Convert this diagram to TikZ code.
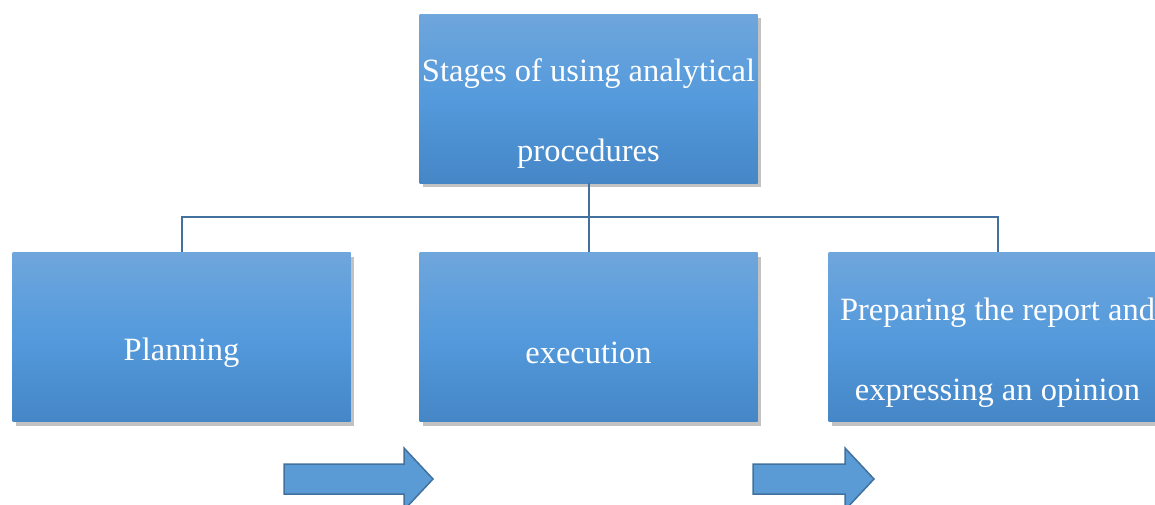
\documentclass[tikz,border=0pt]{standalone}
\usepackage{fontspec}
\setmainfont{Liberation Serif}
\usetikzlibrary{shadows,shapes.arrows}
\definecolor{gtop}{HTML}{6FA6DC}
\definecolor{gmid}{HTML}{549ADC}
\definecolor{gbot}{HTML}{4586C6}
\definecolor{linec}{HTML}{41719C}
\definecolor{arrfill}{HTML}{5B9BD5}
\tikzset{
  stagebox/.style={rectangle, minimum width=338pt, minimum height=169pt, inner sep=0pt,
    top color=gtop, bottom color=gbot, middle color=gmid,
    drop shadow={shadow xshift=3pt, shadow yshift=-4pt, opacity=0.4, fill=black!60}},
  stagetext/.style={text=white, font=\fontsize{32.5}{80}\selectfont, align=center, inner sep=0pt},
  link/.style={draw=linec, line width=2pt},
  flowarrow/.style={fill=arrfill, draw=linec, line width=1.5pt, line join=miter}
}
\begin{document}
\begin{tikzpicture}[x=1pt,y=-1pt]
\useasboundingbox (0,0) rectangle (1155,504);
\clip (0,0) rectangle (1155,504);
\node[stagebox] (top) at (588.5,98.5) {};
\node[stagebox] (plan) at (181.5,337) {};
\node[stagebox] (exec) at (588.5,337) {};
\node[stagebox] (rep) at (997.5,337) {};
\node[stagetext] (topt) at ([yshift=-15.5pt]top.center) {Stages of using analytical\\procedures};
\node[stagetext] (plant) at ([yshift=-15.5pt]plan.center) {Planning};
\node[stagetext] (exect) at ([yshift=-15.5pt]exec.center) {execution};
\node[stagetext] (rept) at ([yshift=-15.5pt]rep.center) {Preparing the report and\\expressing an opinion};
\coordinate (j) at (588.5,217);
\draw[link] (top.south) -- (j);
\draw[link] (plan.north) |- (j) -| (rep.north);
\draw[link] (j) -- (exec.north);
% block arrows
\draw[flowarrow] (284,464) -- (404,464) -- (404,448) -- (433,479) -- (404,510) -- (404,494) -- (284,494) -- cycle;
\draw[flowarrow] (753,464) -- (845,464) -- (845,448) -- (874,479) -- (845,510) -- (845,494) -- (753,494) -- cycle;
\end{tikzpicture}
\end{document}
